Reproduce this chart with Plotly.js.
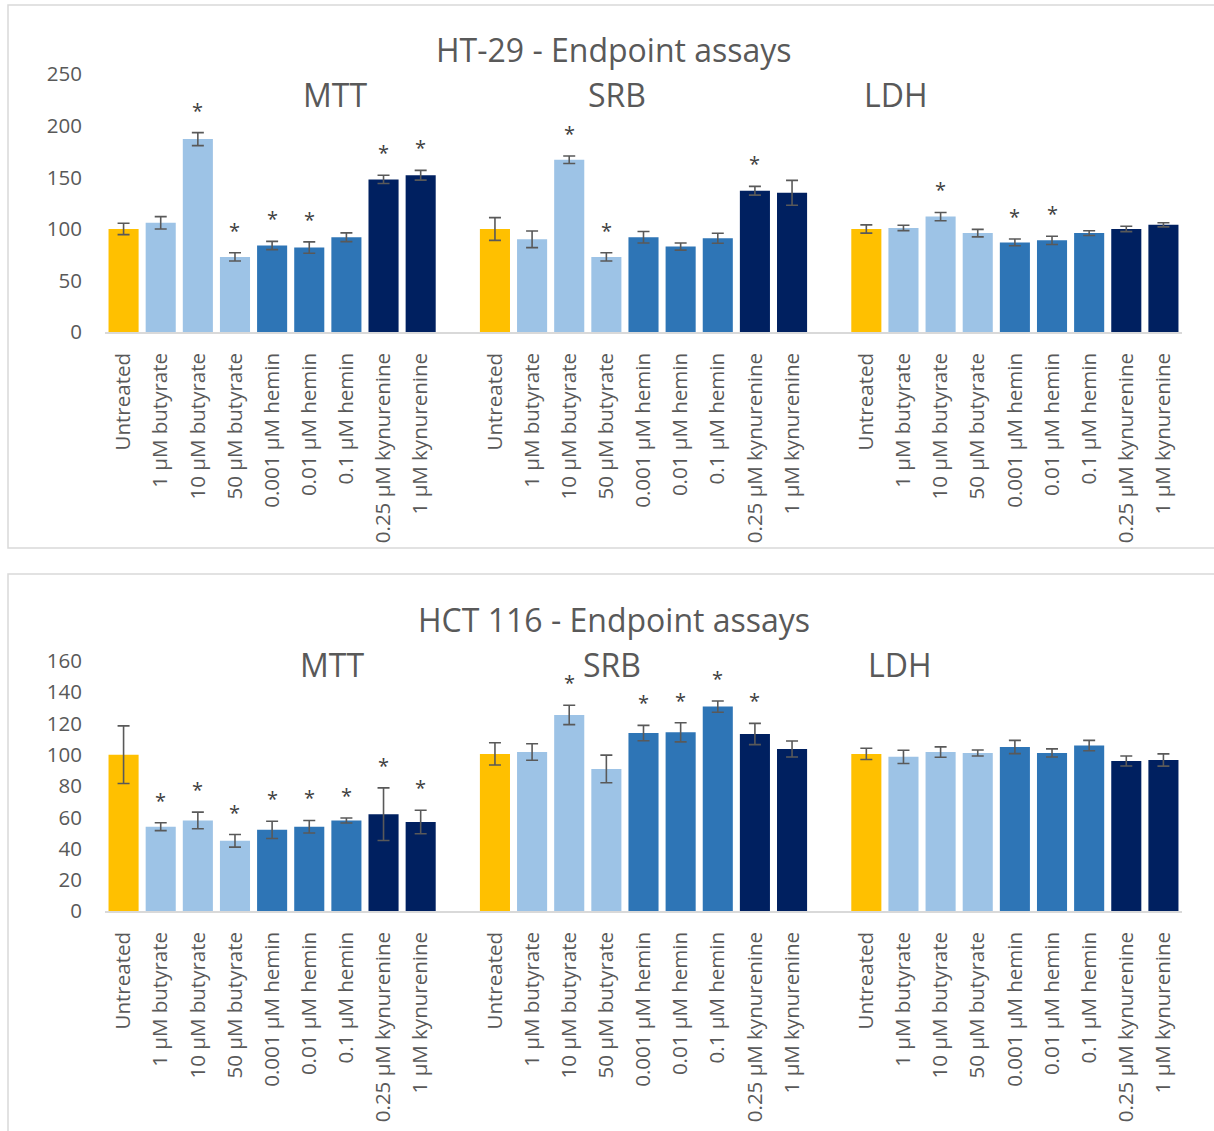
<!DOCTYPE html>
<html><head><meta charset="utf-8">
<script src="https://cdn.plot.ly/plotly-3.0.1.min.js"></script>
<style>html,body{margin:0;padding:0;background:#fff}#chart{width:1214px;height:1131px}</style>
</head><body><div id="chart"></div>
<script>
// ---------- DATA ----------
const categories = ['Untreated','1 μM butyrate','10 μM butyrate','50 μM butyrate','0.001 μM hemin','0.01 μM hemin','0.1 μM hemin','0.25 μM kynurenine','1 μM kynurenine'];
const assays = ['MTT','SRB','LDH'];
const cellLines = ['HT-29 - Endpoint assays','HCT 116 - Endpoint assays'];

// HT-29
const ht29_MTT     = [100, 106, 187, 73, 84, 82, 92, 148, 152];
const ht29_MTT_err = [5.5, 6, 6.3, 4, 4, 5.5, 4.2, 4, 4.7];
const ht29_MTT_sig = [0,0,1,1,1,1,0,1,1];
const ht29_SRB     = [100, 90, 167, 73, 92, 83, 91, 137, 135];
const ht29_SRB_err = [11, 8, 3.6, 4, 5.6, 3.5, 4.8, 4.2, 12];
const ht29_SRB_sig = [0,0,1,1,0,0,0,1,0];
const ht29_LDH     = [100, 101, 112, 96, 87, 89, 96, 100, 104];
const ht29_LDH_err = [4, 2.6, 4, 3.6, 3.3, 4, 2.3, 2.6, 2];
const ht29_LDH_sig = [0,0,1,0,1,1,0,0,0];

// HCT 116
const hct_MTT     = [100, 54, 58, 45, 52, 54, 58, 62, 57];
const hct_MTT_err = [18.4, 2.5, 5.3, 4, 5.5, 4, 1.6, 16.8, 7.5];
const hct_MTT_sig = [0,1,1,1,1,1,1,1,1];
const hct_SRB     = [100.5, 101.7, 125.4, 90.9, 113.8, 114.3, 130.7, 113.2, 103.6];
const hct_SRB_err = [7.1, 5.3, 6.2, 8.8, 4.9, 6.1, 3.6, 6.8, 5.1];
const hct_SRB_sig = [0,0,1,0,1,1,1,1,0];
const hct_LDH     = [100.5, 98.6, 101.7, 101.1, 104.9, 101.1, 105.8, 96, 96.6];
const hct_LDH_err = [3.6, 4.2, 3.3, 1.9, 4.2, 2.6, 3.3, 3.2, 3.9];
const hct_LDH_sig = [0,0,0,0,0,0,0,0,0];

const yMax = [250, 160];
const yStep = [50, 20];

// ---------- STYLE ----------
const barColors = ['#FFC000','#9DC3E6','#9DC3E6','#9DC3E6','#2E75B6','#2E75B6','#2E75B6','#002060','#002060'];
const textColor = '#595959';
const W = 1214, H = 1131;
const px = v => v / W;
const py = v => 1 - v / H;

const panels = [
  {vals:[ht29_MTT, ht29_SRB, ht29_LDH], errs:[ht29_MTT_err, ht29_SRB_err, ht29_LDH_err], sigs:[ht29_MTT_sig, ht29_SRB_sig, ht29_LDH_sig]},
  {vals:[hct_MTT, hct_SRB, hct_LDH], errs:[hct_MTT_err, hct_SRB_err, hct_LDH_err], sigs:[hct_MTT_sig, hct_SRB_sig, hct_LDH_sig]}
];

const slot = categories.length + 1;
const xpos = (g, i) => g * slot + i;

const traces = [];
const annotations = [];
panels.forEach((p, pi) => {
  const xa = pi === 0 ? 'x' : 'x2';
  const ya = pi === 0 ? 'y' : 'y2';
  assays.forEach((a, g) => {
    traces.push({
      type: 'bar',
      x: categories.map((c, i) => xpos(g, i)),
      y: p.vals[g],
      width: 0.81,
      xaxis: xa, yaxis: ya,
      marker: {color: barColors, line: {width: 0}},
      error_y: {type: 'data', array: p.errs[g], visible: true, color: textColor, thickness: 1.6, width: 6},
      hoverinfo: 'x+y',
      showlegend: false
    });
    p.sigs[g].forEach((s, i) => {
      if (s) annotations.push({
        x: xpos(g, i), y: p.vals[g][i] + p.errs[g][i], xref: xa, yref: ya,
        text: '*', showarrow: false, yanchor: 'bottom', yshift: 7,
        font: {family: 'Open Sans', size: 20, color: '#404040'}
      });
    });
  });
});

// titles
const titleY = [49, 619];
const subY = [95, 664];
const subX = [[335, 617, 896], [332, 612, 900]];
cellLines.forEach((t, pi) => {
  annotations.push({x: px(614), y: py(titleY[pi]), xref: 'paper', yref: 'paper', text: t, showarrow: false,
    xanchor: 'center', yanchor: 'middle', font: {family: 'Open Sans', size: 32, color: textColor}});
  assays.forEach((a, g) => {
    annotations.push({x: px(subX[pi][g]), y: py(subY[pi]), xref: 'paper', yref: 'paper', text: a, showarrow: false,
      xanchor: 'center', yanchor: 'middle', font: {family: 'Open Sans', size: 32, color: textColor}});
  });
});

const tickvals = [], ticktext = [];
assays.forEach((a, g) => categories.forEach((c, i) => { tickvals.push(xpos(g, i)); ticktext.push(c); }));

const xaxisBase = {
  type: 'linear', range: [-0.5, assays.length * slot - 1.5], domain: [px(105), px(1182)],
  tickmode: 'array', tickvals, ticktext, tickangle: -90, ticks: '', ticklabelstandoff: 11,
  tickfont: {family: 'Open Sans', size: 20.5, color: textColor},
  showline: true, linecolor: '#D9D9D9', linewidth: 1.5, showgrid: false, zeroline: false, fixedrange: true
};
const yaxisBase = {
  showline: false, showgrid: false, zeroline: false, ticks: '', ticklabelstandoff: 22,
  tickfont: {family: 'Open Sans', size: 20.5, color: textColor}, fixedrange: true
};

const layout = {
  width: W, height: H, margin: {l: 0, r: 0, t: 0, b: 0},
  paper_bgcolor: '#fff', plot_bgcolor: 'rgba(0,0,0,0)',
  font: {family: 'Open Sans', color: textColor},
  bargap: 0.19, showlegend: false,
  xaxis: Object.assign({}, xaxisBase, {anchor: 'y'}),
  xaxis2: Object.assign({}, xaxisBase, {anchor: 'y2'}),
  yaxis: Object.assign({}, yaxisBase, {anchor: 'x', domain: [py(332.3), py(74)], range: [0, yMax[0]], dtick: yStep[0]}),
  yaxis2: Object.assign({}, yaxisBase, {anchor: 'x2', domain: [py(911.3), py(660.7)], range: [0, yMax[1]], dtick: yStep[1]}),
  annotations,
  shapes: [
    {type: 'rect', xref: 'paper', yref: 'paper', x0: px(8), x1: px(1240), y0: py(548), y1: py(5), line: {color: '#D9D9D9', width: 1.5}, layer: 'below'},
    {type: 'rect', xref: 'paper', yref: 'paper', x0: px(8), x1: px(1240), y0: py(1160), y1: py(574), line: {color: '#D9D9D9', width: 1.5}, layer: 'below'}
  ]
};

Plotly.newPlot('chart', traces, layout, {displayModeBar: false, staticPlot: true});
</script>
</body></html>
